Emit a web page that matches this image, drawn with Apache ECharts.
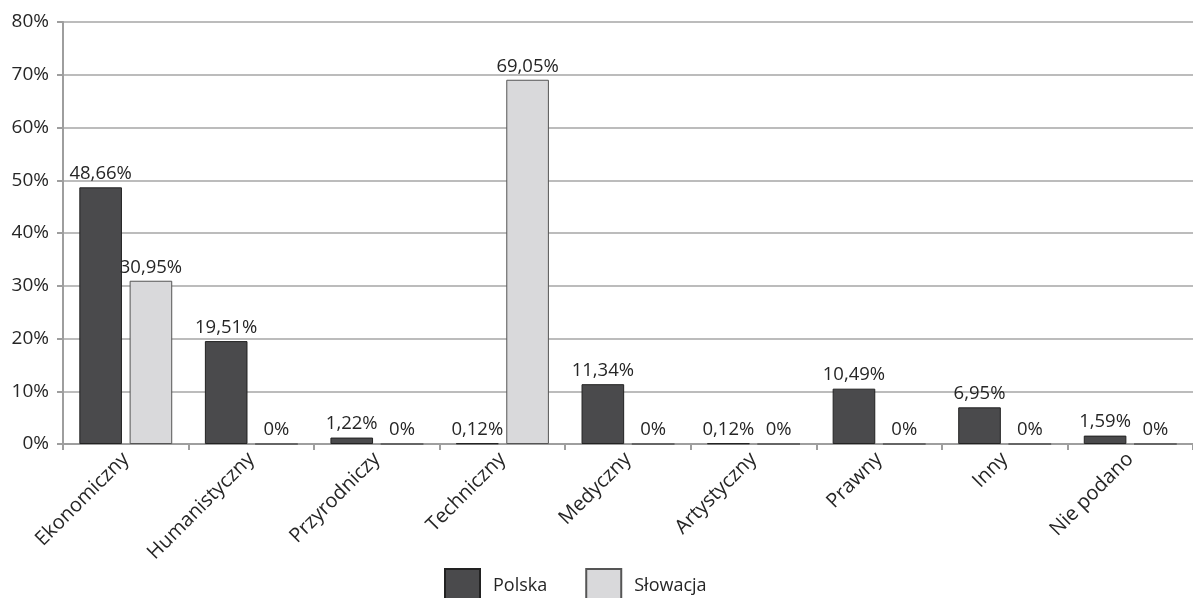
<!DOCTYPE html>
<html>
<head>
<meta charset="utf-8">
<script src="https://cdn.jsdelivr.net/npm/echarts@6/dist/echarts.min.js"></script>
<style>
html,body{margin:0;padding:0;background:#fff;}
#chart{width:1193px;height:598px;}
</style>
</head>
<body>
<div id="chart"></div>
<script>
const categories = ['Ekonomiczny','Humanistyczny','Przyrodniczy','Techniczny','Medyczny','Artystyczny','Prawny','Inny','Nie podano'];
const polska = [48.66, 19.51, 1.22, 0.12, 11.34, 0.12, 10.49, 6.95, 1.59];
const slowacja = [30.95, 0, 0, 69.05, 0, 0, 0, 0, 0];
const seriesNames = ['Polska', 'Słowacja'];

const FONT = 'Open Sans';
const TXT = '#262626';
const fmt = p => String(p.value).replace('.', ',') + '%';

const chart = echarts.init(document.getElementById('chart'));
chart.setOption({
  animation: false,
  textStyle: { fontFamily: FONT },
  grid: { left: 63, top: 22, bottom: 154, width: 1139, containLabel: false },
  legend: {
    data: seriesNames,
    left: 444,
    top: 568,
    padding: 0,
    itemWidth: 35,
    itemHeight: 34,
    itemGap: 38,
    textStyle: { fontFamily: FONT, fontSize: 18, color: TXT, padding: [4, 0, 0, 8] },
    icon: 'rect'
  },
  xAxis: {
    type: 'category',
    data: categories,
    axisLine: { lineStyle: { color: '#9e9e9e', width: 2 } },
    axisTick: { show: true, length: 6, lineStyle: { color: '#9e9e9e', width: 2 } },
    axisLabel: { rotate: 45, fontFamily: FONT, fontSize: 20, color: TXT, margin: 12, interval: 0 }
  },
  yAxis: {
    type: 'value',
    min: 0, max: 80, interval: 10,
    axisLine: { show: true, lineStyle: { color: '#9e9e9e', width: 2 } },
    axisTick: { show: true, length: 6, lineStyle: { color: '#9e9e9e', width: 2 } },
    axisLabel: { formatter: '{value}%', fontFamily: FONT, fontSize: 19, color: TXT, margin: 14 },
    splitLine: { lineStyle: { color: '#a6a6a6', width: 1.5 } }
  },
  series: [
    {
      name: seriesNames[0], type: 'bar', data: polska,
      barGap: '18%', barCategoryGap: '26%',
      itemStyle: { color: '#4a4a4c', borderColor: '#222', borderWidth: 1 },
      label: { show: true, position: 'top', distance: 4, formatter: fmt, fontFamily: FONT, fontSize: 18.5, color: TXT }
    },
    {
      name: seriesNames[1], type: 'bar', data: slowacja,
      itemStyle: { color: '#d9d9db', borderColor: '#555', borderWidth: 1 },
      label: { show: true, position: 'top', distance: 4, formatter: fmt, fontFamily: FONT, fontSize: 18.5, color: TXT }
    }
  ]
});
</script>
</body>
</html>
